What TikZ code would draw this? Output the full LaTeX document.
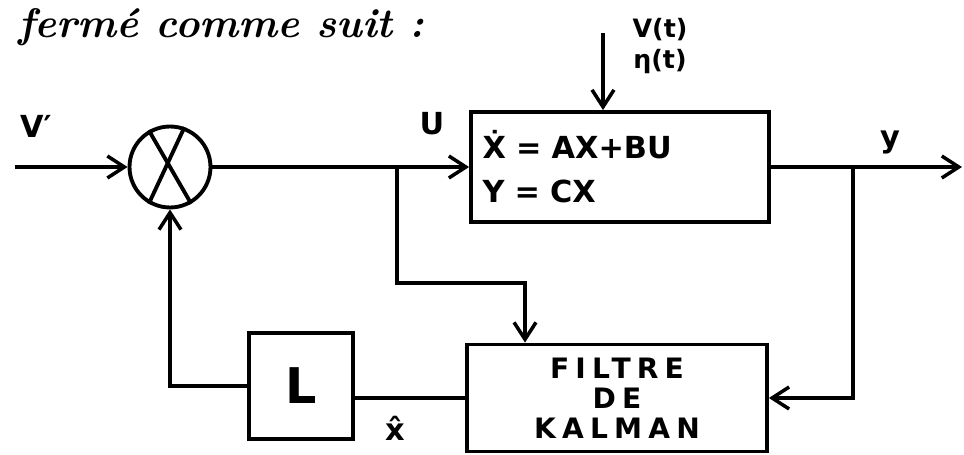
\documentclass[tikz,border=0pt]{standalone}
\usepackage{amsmath}
\usepackage{fontspec}
\setsansfont{DejaVu Sans}
\newfontfamily\spaced[LetterSpace=22]{DejaVu Sans}
\usetikzlibrary{arrows.meta,positioning,calc}
\tikzset{
  wire/.style={line width=2.2pt},
  flow/.style={wire,-{Straight Barb[length=3.4mm,width=4.4mm,line width=2pt]}},
  blockbox/.style={draw,line width=2.2pt,inner sep=6pt},
  hand/.style={font=\sffamily\bfseries\LARGE}
}

\begin{document}
\begin{tikzpicture}[x=0.02cm,y=-0.02cm]
        \useasboundingbox (0,0) rectangle (964,455);
        \node[anchor=base west,font=\fontsize{23.5}{25}\selectfont\bfseries\itshape] (intro) at (12,38) {fermé comme suit :};
        % blocks
        \node[draw,circle,line width=2.2pt,minimum size=1.62cm] (sum) at (170,167) {};
        \draw[wire] (sum.70) -- (sum.240);
        \draw[wire] (sum.120) -- (sum.300);
        \node[blockbox,minimum width=5.96cm,minimum height=2.2cm,text width=5.5cm,align=left,font=\sffamily\bfseries\LARGE] (plant) at (620,167)
          {\.X = AX+BU\\[3pt] Y = CX};
        \node[blockbox,minimum width=6cm,minimum height=2.14cm,align=center,font=\spaced\bfseries\fontsize{16}{17}\selectfont] (kalman) at (617,398)
          {FILTRE\\DE\\KALMAN};
        \node[blockbox,minimum width=2.08cm,minimum height=2.12cm,font=\sffamily\bfseries\fontsize{28}{30}\selectfont] (gain) at (301,386) {L};
        % free ends and branch points
        \coordinate (vin) at (15,167);
        \coordinate (noise) at (603,33);
        \coordinate (yout) at (962,167);
        \coordinate (ubr) at (397,167);
        \coordinate (ukal) at (525,283);
        \coordinate (ybr) at (853,167);
        % connectors
        \draw[flow] (vin) -- (sum.west);
        \draw[flow] (sum.east) -- (plant.west);
        \draw[flow] (noise) -- (noise |- plant.north);
        \draw[flow] (plant.east) -- (yout);
        \draw[flow] (ubr) |- (ukal) -- (ukal |- kalman.north);
        \draw[flow] (ybr) |- (kalman.east);
        \draw[wire] (kalman.west) -- (kalman.west -| gain.east);
        \draw[flow] (gain.west) -| (sum.south);
        % labels
        \node[hand] (lvin) at (36,126) {V′};
        \node[hand] (lu) at (432,124) {U};
        \node[font=\sffamily\bfseries\Large,align=center,inner sep=1pt] (lnoise) at (660,46) {V(t)\\η(t)};
        \node[hand] (ly) at (890,142) {y};
        \node[hand] (lxhat) at (395,428) {\^x};
\end{tikzpicture}
\end{document}
